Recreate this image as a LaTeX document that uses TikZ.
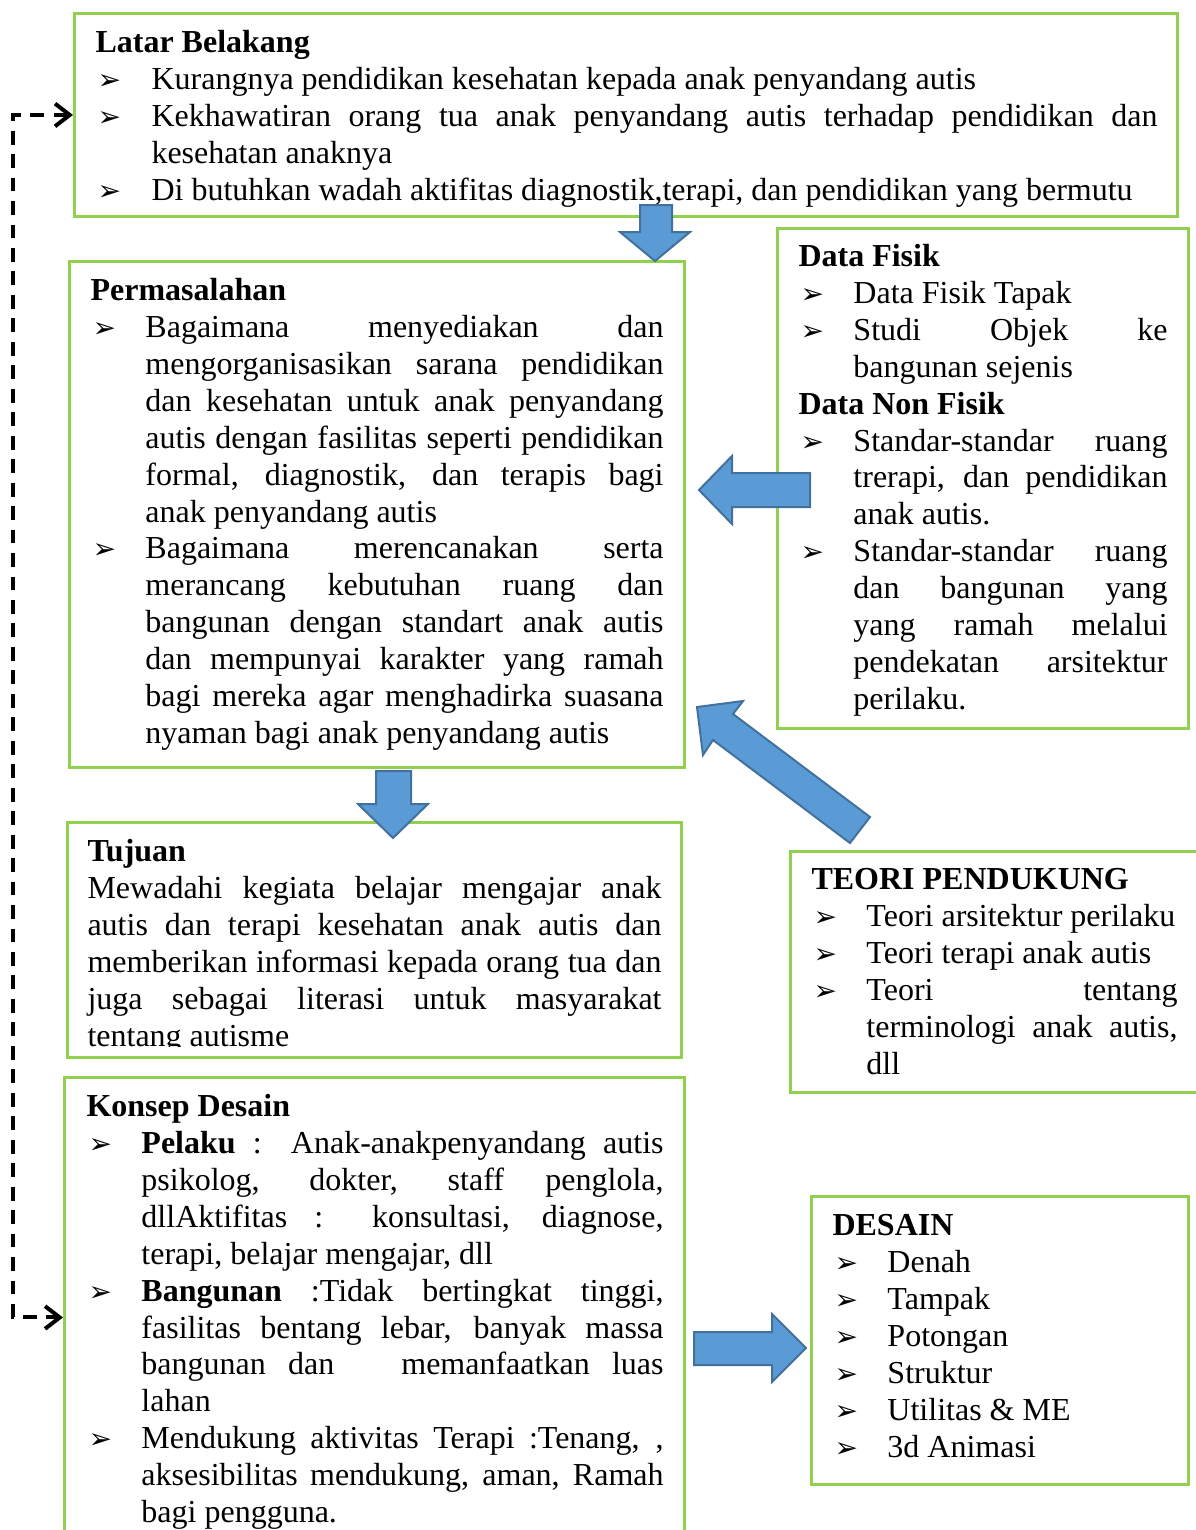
\documentclass[tikz,border=0pt]{standalone}
\usepackage{fontspec}
\setmainfont{Liberation Serif}
\newfontfamily\dvfont{DejaVu Sans}
\usetikzlibrary{arrows.meta}
\definecolor{boxgreen}{HTML}{92D050}
\definecolor{arrfill}{HTML}{5B9BD5}
\definecolor{arrline}{HTML}{41719C}
\tolerance=10000
\hbadness=10000
\newcommand\bul{{\dvfont\fontsize{10.5}{10}\selectfont\char"27A2}}
\newlength\hangw
\setlength\hangw{20.6pt}
\newcommand\itm[1]{\par\hangindent=\hangw\hangafter=1\noindent\makebox[\hangw][l]{\hspace{0.75pt}\bul}#1\par}
\tikzset{
  box/.style={draw=boxgreen, line width=1.1pt, anchor=north west, inner sep=0pt},
  txt/.style={anchor=north west, inner sep=0pt, align=justify,
    font=\fontsize{12}{13.85}\selectfont},
  blockarrow/.style={fill=arrfill, draw=arrline, line width=0.75pt, line join=miter},
  dashconn/.style={line width=1.5pt, dash pattern=on 5.2pt off 3.6pt,
    {Straight Barb[length=5.5pt,width=8.5pt]}-{Straight Barb[length=5.5pt,width=8.5pt]}}
}
\begin{document}
\begin{tikzpicture}[x=0.375pt,y=-0.375pt]
\useasboundingbox (0,0) rectangle (1196,1530);
\clip (0,0) rectangle (1196,1530);
% boxes
\node[box, minimum width=1103*0.375pt, minimum height=203*0.375pt] (b1) at (73,12) {};
\node[box, minimum width=615*0.375pt, minimum height=506*0.375pt] (b2) at (68,260) {};
\node[box, minimum width=411*0.375pt, minimum height=500*0.375pt] (b3) at (776,227) {};
\node[box, minimum width=614*0.375pt, minimum height=235*0.375pt] (b4) at (66,821) {};
\node[box, minimum width=430*0.375pt, minimum height=241*0.375pt] (b5) at (789,850) {};
\node[box, minimum width=620*0.375pt, minimum height=480*0.375pt] (b6) at (63,1076) {};
\node[box, minimum width=377*0.375pt, minimum height=288*0.375pt] (b7) at (810,1195) {};
% texts
\node[txt, text width=398.25pt] (t1) at (95,26) {\setlength\hangw{21pt}\strut\textbf{Latar Belakang}
\itm{Kurangnya pendidikan kesehatan kepada anak penyandang autis}
\itm{Kekhawatiran orang tua anak penyandang autis terhadap pendidikan dan\linebreak kesehatan anaknya}
\itm{Di butuhkan wadah aktifitas diagnostik,terapi, dan pendidikan yang bermutu}};
\node[txt, text width=214.9pt] (t2) at (90,274) {\strut\textbf{Permasalahan}
\itm{Bagaimana menyediakan dan\linebreak mengorganisasikan sarana pendidikan\linebreak dan kesehatan untuk anak penyandang\linebreak autis dengan fasilitas seperti pendidikan\linebreak formal, diagnostik, dan terapis bagi\linebreak anak penyandang autis}
\itm{Bagaimana merencanakan serta\linebreak merancang kebutuhan ruang dan\linebreak bangunan dengan standart anak autis\linebreak dan mempunyai karakter yang ramah\linebreak bagi mereka agar menghadirka suasana\linebreak nyaman bagi anak penyandang autis}};
\node[txt, text width=138.4pt] (t3) at (798,240) {\strut\textbf{Data Fisik}
\itm{Data Fisik Tapak}
\itm{Studi Objek ke\linebreak bangunan sejenis}
\noindent\textbf{Data Non Fisik}
\itm{Standar-standar ruang\linebreak trerapi, dan pendidikan\linebreak anak autis.}
\itm{Standar-standar ruang\linebreak dan bangunan yang\linebreak yang ramah melalui\linebreak pendekatan arsitektur\linebreak perilaku.}};
\begin{scope}
\clip (60,821) rectangle (690,1046);
\node[txt, text width=215.25pt] (t4) at (87,835) {\strut\textbf{Tujuan}\par\noindent
Mewadahi kegiata belajar mengajar anak\linebreak autis dan terapi kesehatan anak autis dan\linebreak memberikan informasi kepada orang tua dan\linebreak juga sebagai literasi untuk masyarakat\linebreak tentang autisme\par};
\end{scope}
\node[txt, text width=137.25pt] (t5) at (811,863) {\strut\textbf{TEORI PENDUKUNG}
\itm{Teori arsitektur perilaku}
\itm{Teori terapi anak autis}
\itm{Teori tentang\linebreak terminologi anak autis,\linebreak dll}};
\node[txt, text width=216.4pt] (t6) at (86,1090) {\strut\textbf{Konsep Desain}
\itm{\textbf{Pelaku} : Anak-anakpenyandang autis\linebreak psikolog, dokter, staff penglola,\linebreak dllAktifitas : konsultasi, diagnose,\linebreak terapi, belajar mengajar, dll}
\itm{\textbf{Bangunan} :Tidak bertingkat tinggi,\linebreak fasilitas bentang lebar, banyak massa\linebreak bangunan dan\ \ \ memanfaatkan luas\linebreak lahan}
\itm{Mendukung aktivitas Terapi :Tenang, ,\linebreak aksesibilitas mendukung, aman, Ramah\linebreak bagi pengguna.}};
\node[txt, text width=127.5pt] (t7) at (832,1209) {\strut\textbf{DESAIN}
\itm{Denah}
\itm{Tampak}
\itm{Potongan}
\itm{Struktur}
\itm{Utilitas \& ME}
\itm{3d Animasi}};
% block arrows
\draw[blockarrow] (640,205) -- (672,205) -- (672,232) -- (690,232) -- (655,261) -- (620,232) -- (640,232) -- cycle;
\draw[blockarrow] (376,771) -- (411,771) -- (411,804) -- (428,804) -- (393,838) -- (358,804) -- (376,804) -- cycle;
\draw[blockarrow] (810,473) -- (732,473) -- (732,456) -- (699,490) -- (732,524) -- (732,507) -- (810,507) -- cycle;
\draw[blockarrow] (697,707) -- (743,701) -- (733,714) -- (870,817) -- (850,843) -- (713,740) -- (703,755) -- cycle;
\draw[blockarrow] (694,1332) -- (772,1332) -- (772,1314) -- (806,1348) -- (772,1382) -- (772,1365) -- (694,1365) -- cycle;
% dashed feedback connector
\draw[dashconn] (b1.west) -- ++(-60,0) |- (b6.west);
\end{tikzpicture}
\end{document}
